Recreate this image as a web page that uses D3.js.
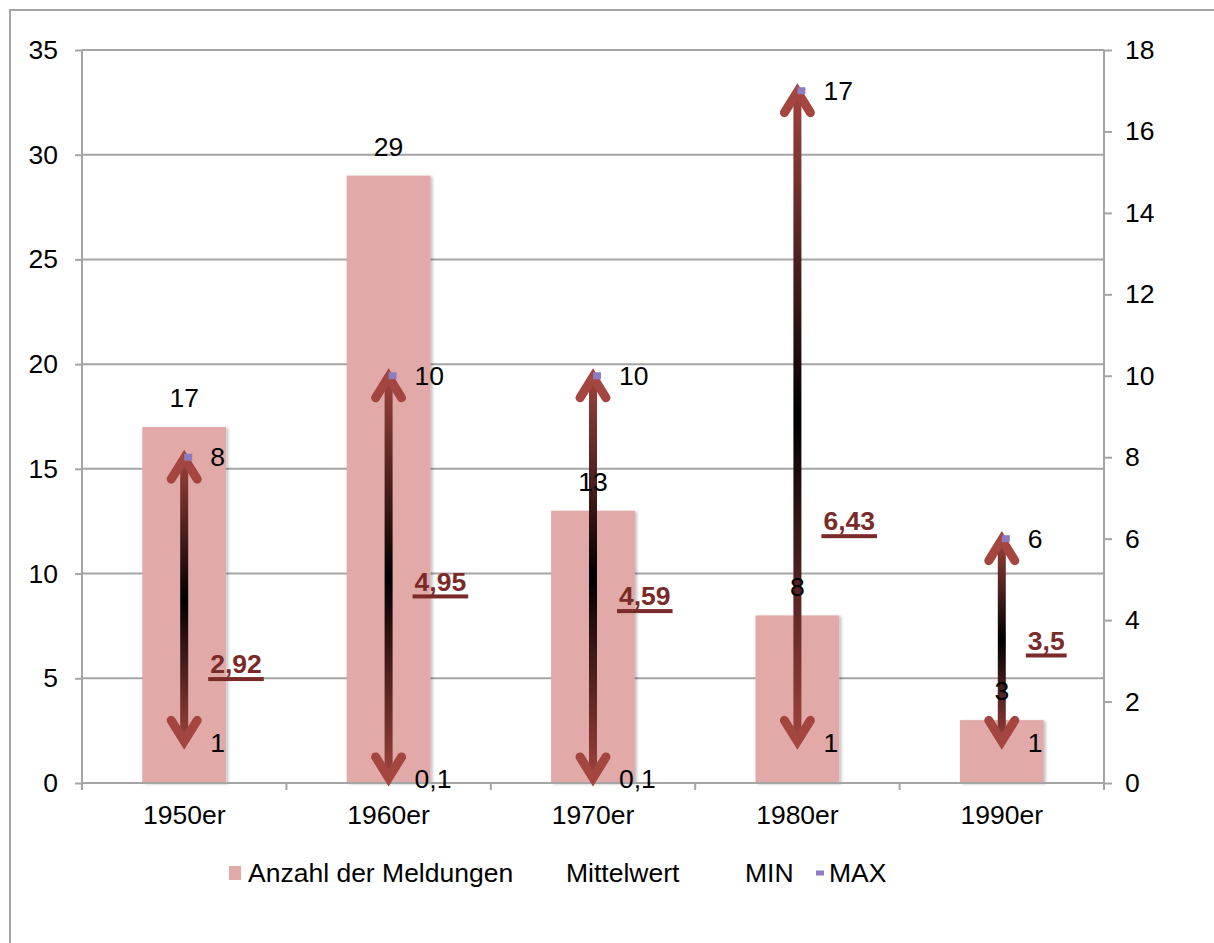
<!DOCTYPE html>
<html>
<head>
<meta charset="utf-8">
<script src="https://cdn.jsdelivr.net/npm/d3@7"></script>
<style>
  html, body { margin: 0; padding: 0; background: #ffffff; }
  svg { display: block; font-family: "Liberation Sans", Arial, Helvetica, sans-serif; }
</style>
</head>
<body>
<svg id="chart" width="1214" height="943"></svg>
<script>
// Meldungen je Jahrzehnt (linke Achse) und Kennwerte Mittelwert / MIN / MAX (rechte Achse)
const categories = ["1950er", "1960er", "1970er", "1980er", "1990er"];
const counts = [17, 29, 13, 8, 3];
const means = [2.92, 4.95, 4.59, 6.43, 3.5];
const mins = [1, 0.1, 0.1, 1, 1];
const maxs = [8, 10, 10, 17, 6];
const leftTicks = [0, 5, 10, 15, 20, 25, 30, 35];
const rightTicks = [0, 2, 4, 6, 8, 10, 12, 14, 16, 18];
const legendItems = ["Anzahl der Meldungen", "Mittelwert", "MIN", "MAX"];

const W = 1214, H = 943;
const plot = { left: 82, right: 1104, top: 50, bottom: 783 };
const gridColor = "#a5a5a5";
const barColor = "#e1a9a8";
const arrowRed = "#a4453f";
const meanColor = "#7a2b29";
const maxColor = "#8e7cc3";
const fontSize = 26.5;

const fmt = v => String(v).replace(".", ",");

const svg = d3.select("#chart");
const defs = svg.append("defs");

// weicher Schatten rechts an den Balken
const shadow = defs.append("filter").attr("id", "barShadow")
  .attr("x", "-10%").attr("y", "-10%").attr("width", "130%").attr("height", "130%");
shadow.append("feDropShadow").attr("dx", 2).attr("dy", 1)
  .attr("stdDeviation", 1.5).attr("flood-color", "#000").attr("flood-opacity", 0.25);

// Rahmen des Diagrammbereichs
svg.append("rect")
  .attr("x", 10).attr("y", 10).attr("width", W + 20).attr("height", H + 20)
  .attr("fill", "none").attr("stroke", gridColor).attr("stroke-width", 2);

const x = d3.scaleBand().domain(categories).range([plot.left, plot.right]).paddingInner(0).paddingOuter(0);
const yL = d3.scaleLinear().domain([0, 35]).range([plot.bottom, plot.top]);
const yR = d3.scaleLinear().domain([0, 18]).range([plot.bottom, plot.top]);
const cx = c => x(c) + x.bandwidth() / 2;

// horizontale Gitterlinien
svg.append("g").selectAll("line").data(leftTicks).join("line")
  .attr("x1", plot.left).attr("x2", plot.right)
  .attr("y1", d => yL(d)).attr("y2", d => yL(d))
  .attr("stroke", gridColor).attr("stroke-width", 2);

// Balken: Anzahl der Meldungen
const barW = x.bandwidth() * 0.41;
svg.append("g").selectAll("rect").data(categories).join("rect")
  .attr("x", c => cx(c) - barW / 2)
  .attr("y", (c, i) => yL(counts[i]))
  .attr("width", barW)
  .attr("height", (c, i) => yL(0) - yL(counts[i]))
  .attr("fill", barColor)
  .attr("filter", "url(#barShadow)");

// linke Achse
const axisL = svg.append("g").attr("transform", `translate(${plot.left},0)`)
  .call(d3.axisLeft(yL).tickValues(leftTicks).tickSize(7).tickPadding(17).tickFormat(d3.format("d")));
// rechte Achse
const axisR = svg.append("g").attr("transform", `translate(${plot.right},0)`)
  .call(d3.axisRight(yR).tickValues(rightTicks).tickSize(8).tickPadding(13).tickFormat(d3.format("d")));
// Kategorienachse mit Teilstrichen an den Grenzen
const axisB = svg.append("g").attr("transform", `translate(0,${plot.bottom})`)
  .call(d3.axisBottom(x).tickSize(0).tickPadding(22));
const bounds = categories.map(c => x(c)).concat([plot.right]);
axisB.selectAll(".bound").data(bounds).join("line").attr("class", "bound")
  .attr("x1", d => d).attr("x2", d => d).attr("y1", 0).attr("y2", 7)
  .attr("stroke", gridColor).attr("stroke-width", 2);

[axisL, axisR, axisB].forEach(g => {
  g.select(".domain").attr("stroke", gridColor).attr("stroke-width", 2);
  g.selectAll(".tick line").attr("stroke", gridColor).attr("stroke-width", 2);
  g.selectAll("text").attr("font-size", fontSize).attr("fill", "#000")
    .attr("font-family", "'Liberation Sans', Arial, sans-serif");
});
axisB.select(".domain").attr("d", `M${plot.left},0H${plot.right}`);
axisL.select(".domain").attr("d", `M0,${plot.bottom}V${plot.top}`);
axisR.select(".domain").attr("d", `M0,${plot.bottom}V${plot.top}`);

// Pfeile von MIN bis MAX, Farbverlauf rot - schwarz - rot
const tipExt = 7;          // Spitze reicht etwas über den Wert hinaus
const miter = 8;           // Abstand Spitze -> Scheitel der Mittellinie
const headDx = 13, headDy = 21;
const arrows = svg.append("g");
categories.forEach((c, i) => {
  const xc = cx(c);
  const tipTop = yR(maxs[i]) - tipExt;
  const tipBot = yR(mins[i]) + tipExt;
  const gid = "shaft" + i;
  const grad = defs.append("linearGradient").attr("id", gid)
    .attr("gradientUnits", "userSpaceOnUse")
    .attr("x1", 0).attr("x2", 0).attr("y1", tipTop).attr("y2", tipBot);
  grad.append("stop").attr("offset", 0).attr("stop-color", arrowRed);
  grad.append("stop").attr("offset", 0.5).attr("stop-color", "#000");
  grad.append("stop").attr("offset", 1).attr("stop-color", arrowRed);

  arrows.append("line")
    .attr("x1", xc).attr("x2", xc).attr("y1", tipTop + 8).attr("y2", tipBot - 8)
    .attr("stroke", `url(#${gid})`).attr("stroke-width", 8);
  const vt = tipTop + miter, vb = tipBot - miter;
  arrows.append("path")
    .attr("d", `M${xc - headDx},${vt + headDy}L${xc},${vt}L${xc + headDx},${vt + headDy}`)
    .attr("fill", "none").attr("stroke", arrowRed).attr("stroke-width", 9)
    .attr("stroke-linecap", "round").attr("stroke-linejoin", "miter").attr("stroke-miterlimit", 6);
  arrows.append("path")
    .attr("d", `M${xc - headDx},${vb - headDy}L${xc},${vb}L${xc + headDx},${vb - headDy}`)
    .attr("fill", "none").attr("stroke", arrowRed).attr("stroke-width", 9)
    .attr("stroke-linecap", "round").attr("stroke-linejoin", "miter").attr("stroke-miterlimit", 6);
});

// MAX-Marker
svg.append("g").selectAll("rect").data(categories).join("rect")
  .attr("x", c => cx(c))
  .attr("y", (c, i) => yR(maxs[i]) - 3.5)
  .attr("width", 8).attr("height", 7)
  .attr("fill", maxColor);

const labelOff = 26;
const labels = svg.append("g").attr("font-size", fontSize);

// Werte der Balken
labels.selectAll(".count").data(categories).join("text").attr("class", "count")
  .attr("x", c => cx(c))
  .attr("y", (c, i) => yL(counts[i]) - 29)
  .attr("dy", "0.35em").attr("text-anchor", "middle")
  .text((c, i) => fmt(counts[i]));

// MAX- und MIN-Beschriftungen
labels.selectAll(".maxl").data(categories).join("text").attr("class", "maxl")
  .attr("x", c => cx(c) + labelOff)
  .attr("y", (c, i) => yR(maxs[i]))
  .attr("dy", "0.35em")
  .text((c, i) => fmt(maxs[i]));
labels.selectAll(".minl").data(categories).join("text").attr("class", "minl")
  .attr("x", c => cx(c) + labelOff)
  .attr("y", (c, i) => yR(mins[i]))
  .attr("dy", "0.35em")
  .text((c, i) => fmt(mins[i]));

// Mittelwerte: fett, unterstrichen
const meanG = svg.append("g");
categories.forEach((c, i) => {
  const t = meanG.append("text")
    .attr("x", cx(c) + labelOff)
    .attr("y", yR(means[i]))
    .attr("dy", "0.35em")
    .attr("font-size", fontSize).attr("font-weight", "bold")
    .attr("fill", meanColor)
    .text(fmt(means[i]));
  const w = t.node().getComputedTextLength();
  meanG.append("rect")
    .attr("x", cx(c) + labelOff - 2)
    .attr("y", yR(means[i]) + 13)
    .attr("width", w + 4).attr("height", 4)
    .attr("fill", meanColor);
});

// Legende
const legY = 873;
const leg = svg.append("g").attr("font-size", fontSize);
leg.append("rect").attr("x", 229).attr("y", legY - 7).attr("width", 12).attr("height", 14).attr("fill", barColor);
const legX = [248, 566, 745, 829];
leg.selectAll("text").data(legendItems).join("text")
  .attr("x", (d, i) => legX[i]).attr("y", legY).attr("dy", "0.35em")
  .text(d => d);
leg.append("rect").attr("x", 816).attr("y", legY - 2.5).attr("width", 8).attr("height", 5).attr("fill", maxColor);
</script>
</body>
</html>
